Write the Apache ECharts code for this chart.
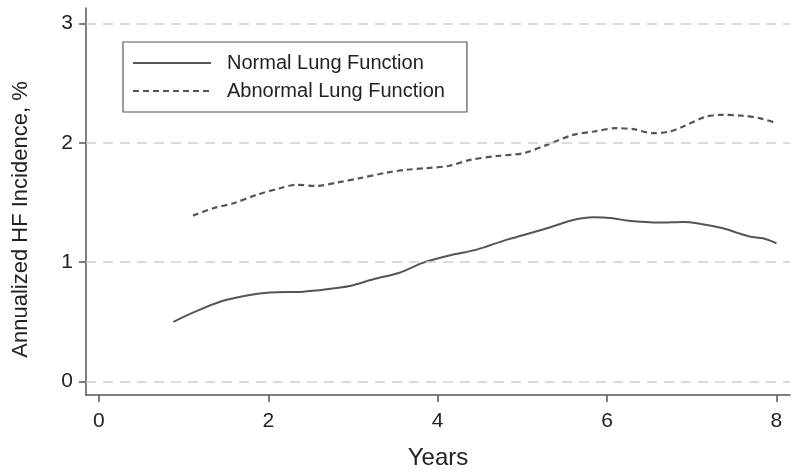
<!DOCTYPE html>
<html>
<head>
<meta charset="utf-8">
<script src="https://cdn.jsdelivr.net/npm/echarts@6/dist/echarts.min.js"></script>
<style>
  html, body { margin: 0; padding: 0; background: #fff; }
  #main { width: 800px; height: 475px; }
</style>
</head>
<body>
<div id="main"></div>
<script>
// values
var normalYears = [0.88, 1.11, 1.43, 1.78, 2.02, 2.41, 2.69, 2.96, 3.24, 3.55, 3.83, 4.16, 4.46, 4.81, 5.29, 5.6, 5.84, 6.07, 6.23, 6.62, 6.9, 7.06, 7.37, 7.53, 7.69, 7.84, 8.0];
var normalRate = [0.5, 0.577, 0.669, 0.725, 0.745, 0.753, 0.773, 0.8, 0.857, 0.912, 0.996, 1.06, 1.105, 1.187, 1.284, 1.354, 1.377, 1.368, 1.349, 1.332, 1.337, 1.327, 1.284, 1.248, 1.214, 1.2, 1.159];
var abnormalYears = [1.11, 1.35, 1.59, 1.86, 2.14, 2.33, 2.57, 2.81, 3.08, 3.4, 3.63, 3.87, 4.14, 4.38, 4.7, 5.01, 5.29, 5.6, 5.84, 6.11, 6.31, 6.54, 6.74, 6.9, 7.17, 7.37, 7.61, 7.8, 8.0];
var abnormalRate = [1.39, 1.452, 1.494, 1.564, 1.62, 1.648, 1.639, 1.667, 1.704, 1.751, 1.774, 1.788, 1.808, 1.857, 1.89, 1.913, 1.983, 2.067, 2.095, 2.123, 2.115, 2.081, 2.095, 2.137, 2.22, 2.235, 2.227, 2.207, 2.165];
var xTicks = [0, 2, 4, 6, 8];
var yTicks = [0, 1, 2, 3];

function pairs(xs, ys) {
  return xs.map(function (x, i) { return [x, ys[i]]; });
}

var font = '"Liberation Sans", Arial, sans-serif';
var axisColor = '#555';
var textColor = '#222';

var myChart = echarts.init(document.getElementById('main'));
myChart.setOption({
  animation: false,
  grid: { left: 86, right: 10, top: 8, bottom: 80 },
  legend: {
    data: ['Normal Lung Function', 'Abnormal Lung Function'],
    orient: 'vertical',
    left: 123,
    top: 42,
    padding: [11, 22, 11, 9],
    itemGap: 8,
    itemWidth: 78,
    itemHeight: 14,
    borderColor: '#555',
    borderWidth: 1.2,
    borderRadius: 0,
    // hide the symbol dot, keep the line sample
    itemStyle: { opacity: 0 },
    textStyle: { fontFamily: font, fontSize: 20, color: textColor, padding: [0, 0, 0, 11] }
  },
  xAxis: {
    type: 'value',
    min: -0.153,
    max: 8.16,
    name: 'Years',
    nameLocation: 'middle',
    nameGap: 51,
    nameTextStyle: { fontFamily: font, fontSize: 24, color: textColor },
    axisLine: { show: true, onZero: false, lineStyle: { color: axisColor, width: 1.5 } },
    axisTick: { show: true, length: 7, customValues: xTicks, lineStyle: { color: axisColor, width: 1.5 } },
    axisLabel: { customValues: xTicks, margin: 16, fontFamily: font, fontSize: 21, color: textColor },
    splitLine: { show: false }
  },
  yAxis: {
    type: 'value',
    min: -0.113,
    max: 3.13,
    name: 'Annualized HF Incidence, %',
    nameLocation: 'middle',
    nameGap: 54,
    nameTextStyle: { fontFamily: font, fontSize: 22, color: textColor, padding: [0, 36, 0, 0] },
    axisLine: { show: true, onZero: false, lineStyle: { color: axisColor, width: 1.5 } },
    axisTick: { show: true, length: 7, customValues: yTicks, lineStyle: { color: axisColor, width: 1.5 } },
    axisLabel: { customValues: yTicks, margin: 13, fontFamily: font, fontSize: 21, color: textColor },
    splitLine: { show: false }
  },
  series: [
    {
      // gridlines only
      name: 'grid',
      type: 'line',
      data: [],
      z: 1,
      silent: true,
      markLine: {
        silent: true,
        symbol: 'none',
        label: { show: false },
        lineStyle: { color: '#cfcfcf', type: [10, 7], width: 1.5 },
        data: yTicks.map(function (v) { return { yAxis: v }; })
      }
    },
    {
      name: 'Normal Lung Function',
      type: 'line',
      symbol: 'none',
      smooth: 0.3,
      z: 3,
      lineStyle: { color: '#555', width: 2 },
      itemStyle: { color: '#555' },
      data: pairs(normalYears, normalRate)
    },
    {
      name: 'Abnormal Lung Function',
      type: 'line',
      symbol: 'none',
      smooth: 0.3,
      z: 3,
      lineStyle: { color: '#555', width: 2.2, type: [6, 4] },
      itemStyle: { color: '#555' },
      data: pairs(abnormalYears, abnormalRate)
    }
  ]
});
</script>
</body>
</html>
